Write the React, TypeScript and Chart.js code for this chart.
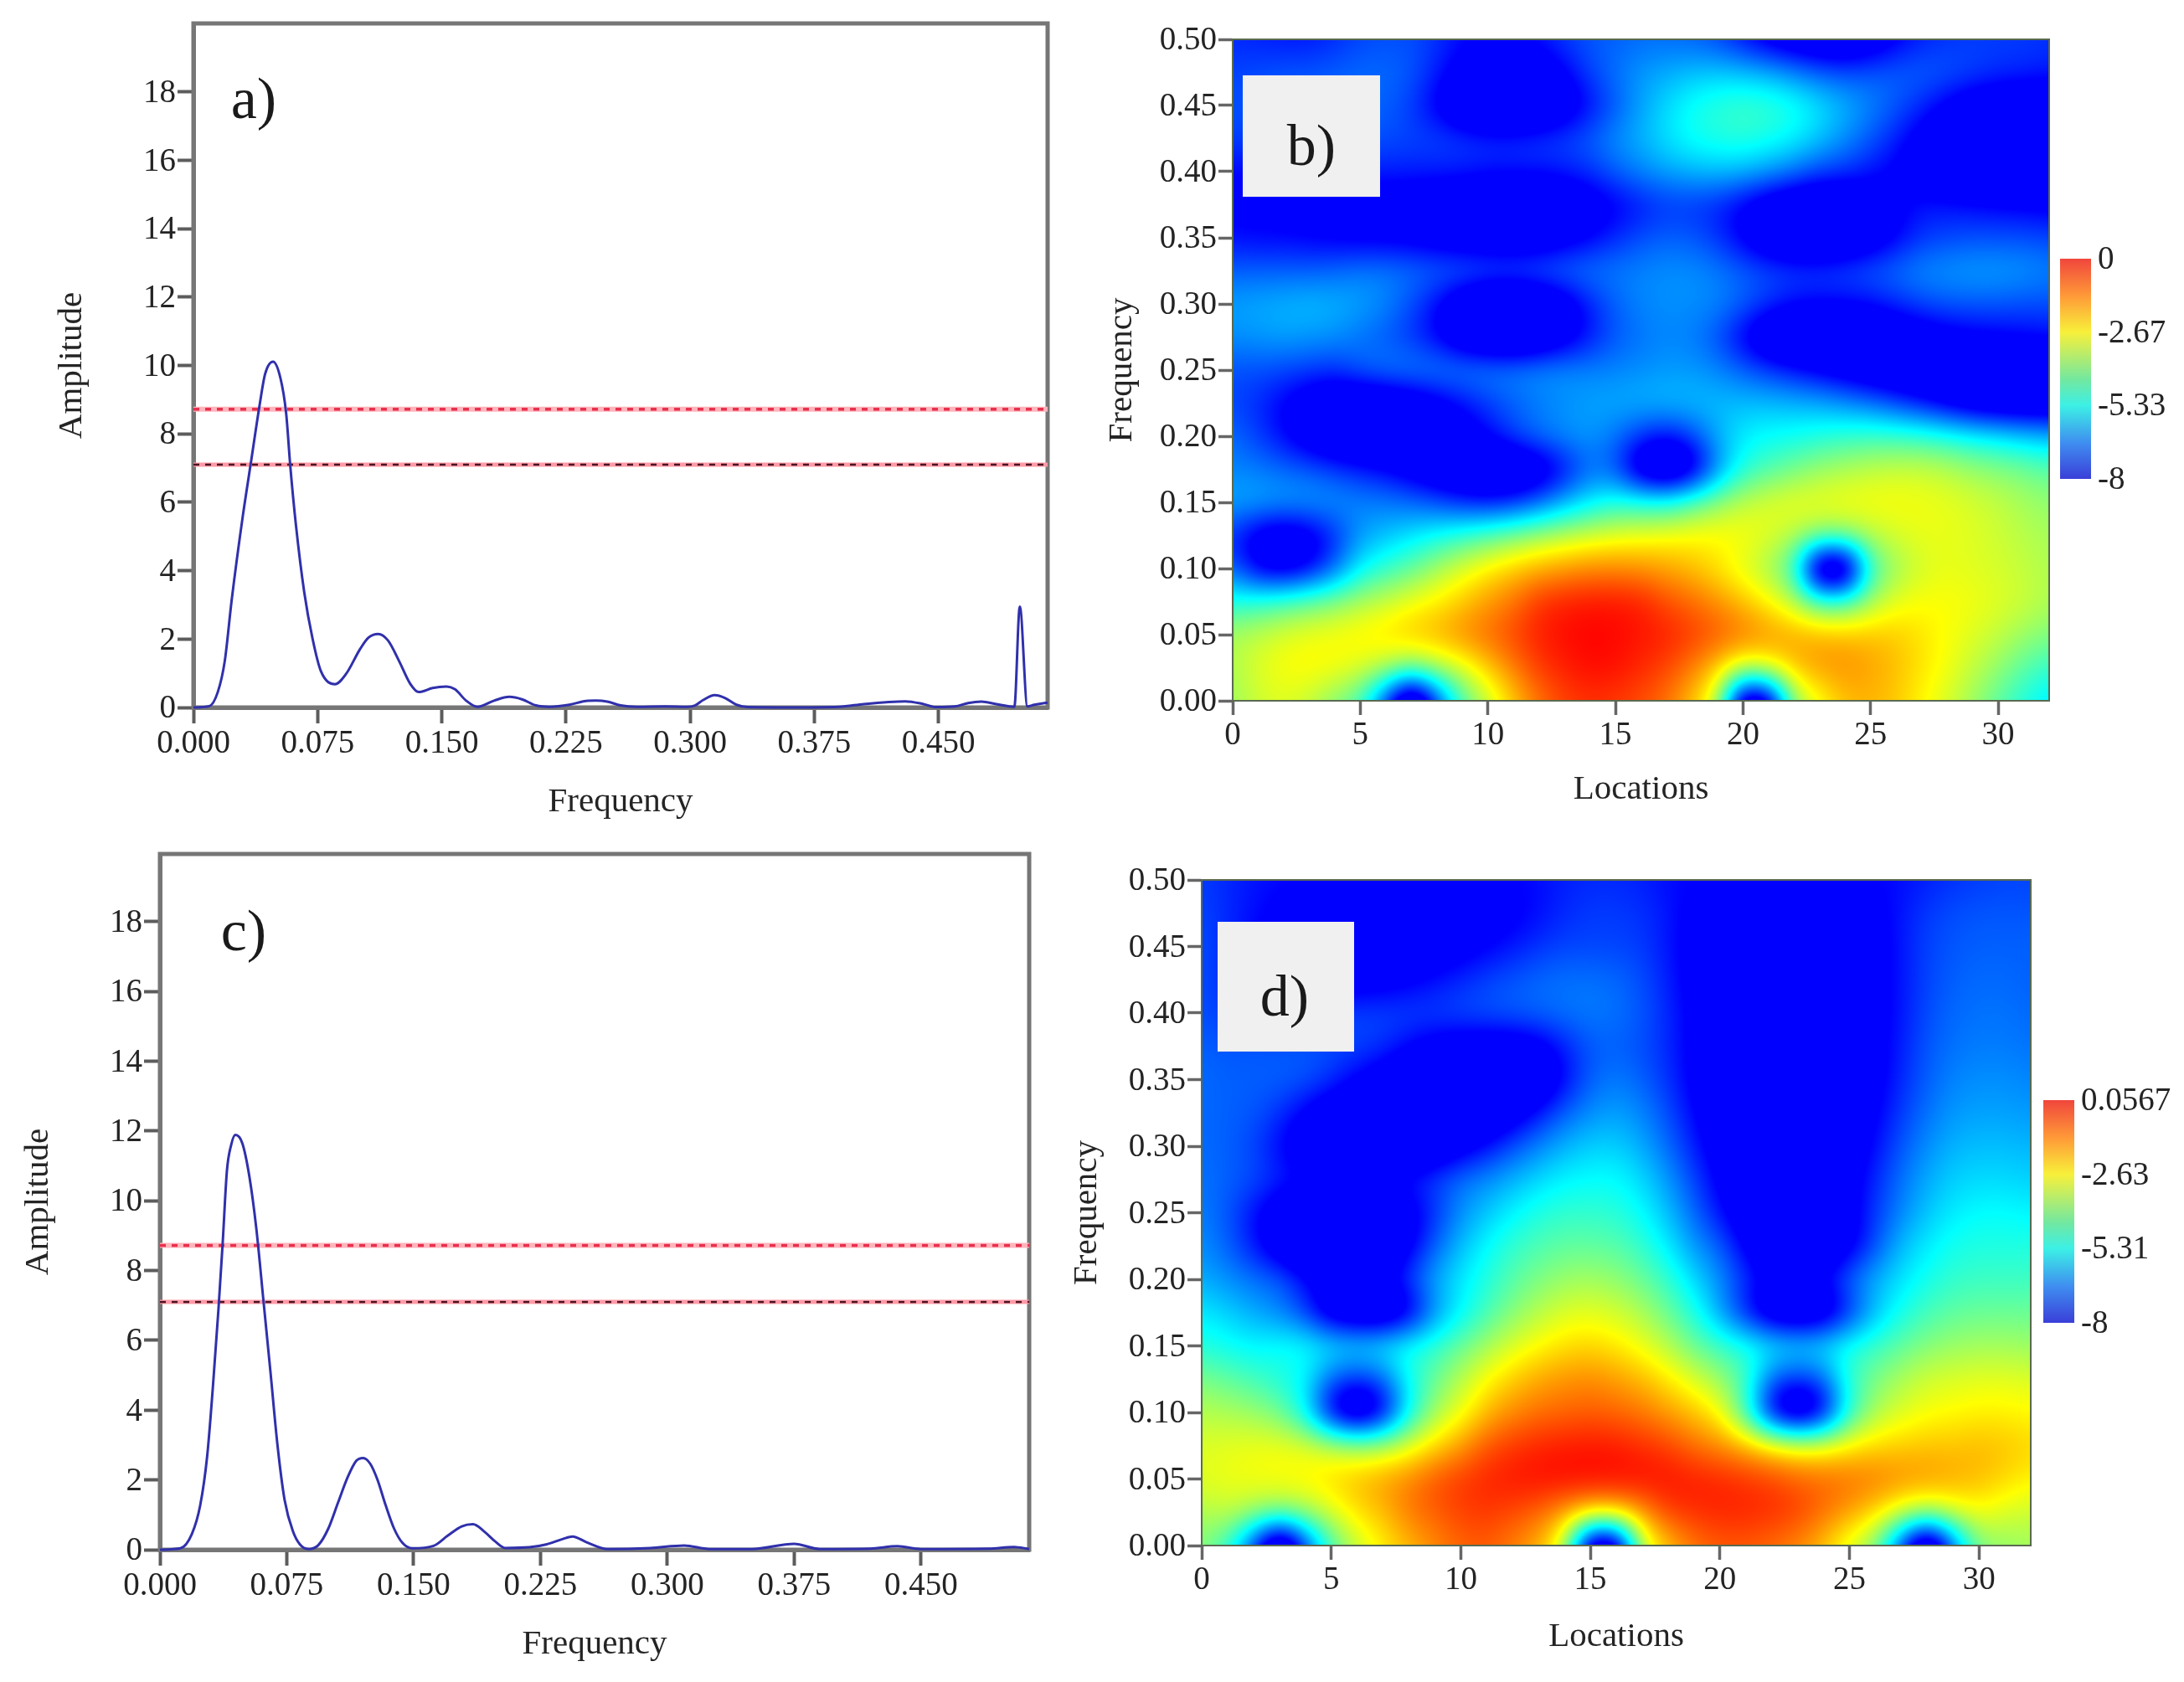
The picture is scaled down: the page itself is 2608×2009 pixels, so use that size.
import React, { useEffect, useRef } from "react";
import { Chart, registerables } from "chart.js";

Chart.register(...registerables);

const FONT = '"Liberation Serif", "Times New Roman", serif';
const TEXT = "#242424";

// Spectrum a)
const aFreq = [0, 0.0096, 0.0147, 0.0189, 0.0231, 0.0298, 0.0349, 0.04, 0.0433, 0.0481, 0.0526, 0.056, 0.0585, 0.0619, 0.0669, 0.072, 0.077, 0.0855, 0.0922, 0.1007, 0.1057, 0.1116, 0.1175, 0.1243, 0.131, 0.1361, 0.1445, 0.1529, 0.158, 0.1647, 0.1715, 0.1816, 0.1908, 0.1984, 0.2069, 0.2153, 0.2271, 0.2372, 0.243, 0.25, 0.258, 0.268, 0.285, 0.298, 0.303, 0.308, 0.3149, 0.321, 0.328, 0.335, 0.36, 0.39, 0.405, 0.42, 0.43, 0.441, 0.4487, 0.46, 0.468, 0.476, 0.485, 0.4959, 0.4992, 0.5038, 0.508, 0.516];
const aAmp = [0, 0.04, 0.45, 1.35, 3.14, 5.59, 7.22, 8.85, 9.75, 10.11, 9.62, 8.6, 7.06, 5.34, 3.38, 2.0, 1.06, 0.68, 0.98, 1.71, 2.04, 2.15, 1.96, 1.35, 0.69, 0.45, 0.57, 0.61, 0.53, 0.2, 0.02, 0.2, 0.31, 0.24, 0.06, 0.02, 0.08, 0.19, 0.2, 0.17, 0.06, 0.02, 0.03, 0.02, 0.06, 0.22, 0.36, 0.28, 0.08, 0.01, 0, 0.02, 0.1, 0.16, 0.18, 0.1, 0.01, 0.03, 0.13, 0.17, 0.1, 0.02, 2.95, 0.03, 0.08, 0.14];

// Spectrum c)
const cFreq = [0, 0.0121, 0.0188, 0.0238, 0.0279, 0.0313, 0.0346, 0.0371, 0.0396, 0.0421, 0.0446, 0.0487, 0.0529, 0.057, 0.0612, 0.0654, 0.0695, 0.0737, 0.0787, 0.0828, 0.0878, 0.0936, 0.0995, 0.1053, 0.1111, 0.1161, 0.1202, 0.1244, 0.1286, 0.1335, 0.1385, 0.1435, 0.1493, 0.1618, 0.1701, 0.1785, 0.1851, 0.1918, 0.1984, 0.2042, 0.2184, 0.2283, 0.2383, 0.244, 0.252, 0.265, 0.29, 0.31, 0.325, 0.35, 0.375, 0.39, 0.42, 0.436, 0.45, 0.49, 0.505, 0.514];
const cAmp = [0, 0.04, 0.44, 1.27, 2.67, 4.66, 6.89, 8.79, 10.86, 11.6, 11.89, 11.65, 10.69, 9.2, 7.14, 5.07, 3.0, 1.43, 0.52, 0.15, 0.02, 0.13, 0.6, 1.35, 2.09, 2.55, 2.63, 2.46, 2.01, 1.27, 0.6, 0.19, 0.04, 0.11, 0.4, 0.67, 0.73, 0.52, 0.23, 0.05, 0.07, 0.15, 0.31, 0.38, 0.22, 0.02, 0.05, 0.12, 0.02, 0.02, 0.17, 0.02, 0.03, 0.1, 0.02, 0.03, 0.08, 0.02];

const confidenceUpper = 8.72;
const confidenceLower = 7.1;
const amplitudeTicks = [0, 2, 4, 6, 8, 10, 12, 14, 16, 18];
const frequencyTicks = [0, 0.075, 0.15, 0.225, 0.3, 0.375, 0.45];
const locationTicks = [0, 5, 10, 15, 20, 25, 30];
const wavenumberTicks = [0, 0.05, 0.1, 0.15, 0.2, 0.25, 0.3, 0.35, 0.4, 0.45, 0.5];

const locations = [0, 1, 2, 3, 4, 5, 6, 7, 8, 9, 10, 11, 12, 13, 14, 15, 16, 17, 18, 19, 20, 21, 22, 23, 24, 25, 26, 27, 28, 29, 30, 31, 32];
const frequencies = [0.5, 0.475, 0.45, 0.425, 0.4, 0.375, 0.35, 0.325, 0.3, 0.275, 0.25, 0.225, 0.2, 0.175, 0.15, 0.125, 0.1, 0.075, 0.05, 0.025, 0];

// Wavelet map b), one row per frequency, one value per location
const powerB = [
  [-7.6,-7.7,-7.8,-7.8,-7.6,-7.3,-7.2,-7.2,-7.5,-7.9,-8,-8,-7.8,-7.4,-7.1,-7,-6.9,-6.9,-7,-7.3,-7.9,-8.5,-8.9,-9.2,-9.2,-8.8,-8.2,-7.7,-7.5,-7.4,-7.4,-7.4,-7.5],
  [-7.3,-7.2,-7.1,-7.1,-7,-6.9,-6.9,-7.1,-7.7,-8.4,-8.9,-9,-8.7,-8.1,-7.3,-6.8,-6.4,-6.2,-6,-5.9,-6,-6.2,-6.6,-7,-7.2,-7.1,-7,-7,-7.1,-7.3,-7.5,-7.6,-7.7],
  [-7.2,-7.1,-7,-6.9,-6.9,-6.9,-7,-7.4,-8.2,-9.2,-9.8,-9.9,-9.5,-8.8,-7.9,-7.1,-6.3,-5.7,-5.2,-4.9,-4.7,-4.8,-5.1,-5.6,-6.1,-6.6,-7.1,-7.6,-8.2,-8.7,-8.9,-9,-9],
  [-7.3,-7.3,-7.2,-7.1,-7.1,-7.1,-7.2,-7.3,-7.3,-7.4,-7.5,-7.5,-7.4,-7.3,-7,-6.5,-6.1,-5.6,-5.2,-5,-4.9,-5.1,-5.4,-5.9,-6.5,-7.1,-7.7,-8.4,-9,-9.4,-9.6,-9.6,-9.5],
  [-8,-8,-8,-7.9,-7.7,-7.7,-7.7,-7.7,-7.7,-7.7,-7.8,-7.8,-7.8,-7.7,-7.5,-7,-6.6,-6.3,-6.1,-6,-6.1,-6.4,-6.8,-7.3,-7.5,-7.8,-8.2,-8.7,-9.1,-9.4,-9.5,-9.4,-9.3],
  [-8.2,-8.2,-8.3,-8.4,-8.4,-8.5,-8.6,-8.7,-8.9,-9.1,-9.3,-9.4,-9.4,-9.1,-8.6,-8.2,-7.8,-7.5,-7.5,-7.7,-8.2,-8.8,-9.2,-9.4,-9.2,-8.8,-8.2,-7.8,-7.8,-7.9,-8,-8.1,-8.2],
  [-7.9,-8,-8,-8.1,-8.2,-8.3,-8.3,-8.4,-8.6,-8.8,-8.9,-9,-8.9,-8.5,-8.1,-7.6,-7.2,-7,-7.1,-7.5,-8.2,-9,-9.5,-9.6,-9.3,-8.8,-8.1,-7.5,-7.3,-7.2,-7.2,-7.2,-7.3],
  [-7,-7,-7,-7,-6.9,-6.7,-6.7,-6.8,-6.9,-6.9,-7,-7,-6.9,-6.8,-6.7,-6.7,-6.6,-6.5,-6.5,-6.7,-7,-7.2,-7.3,-7.3,-7.2,-7,-6.8,-6.5,-6.4,-6.3,-6.3,-6.4,-6.6],
  [-6.3,-6.2,-6.1,-6,-6.1,-6.3,-6.6,-7.2,-8,-9,-9.6,-9.8,-9.4,-8.7,-7.7,-7,-6.6,-6.5,-6.5,-6.6,-7,-7.5,-7.9,-8,-8,-7.9,-7.6,-7.3,-7.1,-7.1,-7.1,-7.2,-7.2],
  [-6.5,-6.4,-6.3,-6.4,-6.5,-6.8,-7.1,-7.5,-8.1,-9,-9.5,-9.7,-9.3,-8.6,-7.8,-7.1,-6.8,-6.6,-6.7,-7.2,-8.2,-9.2,-9.6,-9.7,-9.6,-9.4,-9,-8.7,-8.4,-8.2,-8.1,-8,-7.9],
  [-7.2,-7.2,-7.3,-7.4,-7.5,-7,-6.7,-6.6,-6.6,-6.6,-6.6,-6.6,-6.5,-6.5,-6.6,-6.6,-6.5,-6.4,-6.4,-6.6,-7,-7.4,-7.8,-8.2,-8.6,-9,-9.2,-9.4,-9.5,-9.5,-9.5,-9.4,-9.3],
  [-7.3,-7.6,-8.1,-8.7,-9.1,-9.3,-9.2,-8.9,-8.4,-7.9,-7.4,-7,-6.7,-6.5,-6.3,-6.2,-6.1,-6,-6,-6,-6,-6,-6.1,-6.2,-6.5,-6.8,-7.3,-7.8,-8.4,-8.9,-9.2,-9.3,-9.3],
  [-6.9,-7.4,-8,-8.7,-9.2,-9.5,-9.6,-9.4,-9.1,-8.6,-8,-7.3,-6.8,-6.5,-6.4,-6.8,-7.5,-7.9,-7.3,-6.2,-5.5,-5.3,-5.2,-5,-4.8,-4.7,-4.7,-4.8,-5,-5.3,-5.5,-5.8,-6],
  [-6.6,-6.7,-6.9,-7.1,-7.4,-7.7,-8,-8.5,-9,-9.4,-9.6,-9.5,-9,-8,-6.9,-7.2,-9.2,-10,-9,-6.6,-5,-4.5,-4.1,-3.7,-3.5,-3.3,-3.2,-3.2,-3.4,-3.7,-3.9,-4.1,-4.4],
  [-6.2,-6.2,-6.3,-6.3,-6.4,-6.6,-6.7,-6.9,-7.2,-7.6,-7.8,-7.6,-7,-6.2,-5.5,-5,-5,-5,-4.4,-3.8,-3.3,-3,-2.8,-2.8,-2.7,-2.7,-2.7,-2.8,-2.9,-3.1,-3.3,-3.6,-3.8],
  [-7.6,-8.6,-9,-8.6,-7.6,-6.4,-6,-5.6,-5.2,-4.8,-4.4,-4,-3.6,-3.3,-3.1,-2.9,-2.8,-2.7,-2.6,-2.6,-2.7,-3,-3.4,-3.8,-3.8,-3.4,-3.1,-2.9,-2.9,-3,-3.2,-3.4,-3.6],
  [-7,-8.4,-8.8,-8.2,-7,-5.4,-4.8,-4.3,-3.6,-3,-2.5,-2.1,-1.8,-1.6,-1.4,-1.4,-1.5,-1.7,-2,-2.4,-3,-3.6,-4.8,-10.5,-10.5,-4.8,-3.7,-3.1,-2.9,-3,-3.1,-3.3,-3.5],
  [-5,-4.8,-4.5,-4.2,-3.9,-3.5,-3.2,-2.8,-2.5,-2.1,-1.6,-1.2,-0.5,-0.3,-0.2,-0.2,-0.3,-0.8,-1.1,-1.5,-2,-2.6,-3.4,-4.6,-4.6,-3.6,-2.9,-2.7,-2.7,-2.8,-3,-3.2,-3.5],
  [-3.5,-3.3,-3,-2.8,-2.7,-2.5,-2.3,-2,-1.8,-1.4,-1.1,-0.7,-0.3,-0.1,0,-0.05,-0.2,-0.3,-0.6,-0.9,-1.2,-1.5,-1.7,-1.8,-1.9,-2,-2.1,-2.4,-2.7,-3,-3.3,-3.7,-4],
  [-3.5,-3,-2.7,-2.6,-2.7,-3,-3.4,-4,-3.5,-3,-2.1,-1.3,-0.6,-0.3,-0.1,-0.15,-0.4,-0.7,-1.3,-2.1,-3.1,-2.8,-2,-1.6,-1.5,-1.7,-2,-2.4,-2.8,-3.3,-3.8,-4.4,-4.8],
  [-3.7,-3.2,-3,-3.3,-4,-4.6,-7.5,-11,-7.5,-4.6,-3.3,-2.1,-1.2,-0.7,-0.5,-0.6,-0.8,-1.2,-2,-3.3,-10,-9.5,-3.8,-2.8,-2,-1.9,-2.1,-2.6,-3.1,-3.7,-4.4,-5,-5.6],
];

// Wavelet map d)
const powerD = [
  [-7.4,-7.6,-7.8,-7.9,-8,-8,-8,-8,-8,-8,-8,-8,-8,-7.9,-7.7,-7.6,-7.6,-7.7,-7.9,-8,-8.1,-8.1,-8.1,-8.1,-8.1,-8.1,-8,-7.9,-7.7,-7.5,-7.4,-7.3,-7.3],
  [-7.3,-7.6,-7.9,-8.2,-8.4,-8.5,-8.6,-8.6,-8.6,-8.6,-8.5,-8.4,-8.2,-7.9,-7.6,-7.4,-7.4,-7.5,-7.8,-8.2,-8.4,-8.5,-8.5,-8.5,-8.5,-8.4,-8.2,-7.8,-7.4,-7.2,-7.1,-7.1,-7.1],
  [-7.2,-7.6,-8,-8.3,-8.6,-8.7,-8.8,-8.8,-8.7,-8.6,-8.4,-8.1,-7.8,-7.5,-7.3,-7.3,-7.3,-7.4,-7.8,-8.3,-8.6,-8.8,-8.9,-8.9,-8.8,-8.6,-8.3,-7.8,-7.3,-7.1,-7,-7,-7],
  [-7.2,-7.6,-8,-8.2,-8.4,-8.5,-8.5,-8.4,-8.2,-7.9,-7.6,-7.3,-7.1,-6.9,-6.8,-6.8,-6.9,-7.2,-7.7,-8.3,-8.7,-8.9,-9,-9,-8.9,-8.7,-8.3,-7.8,-7.3,-7,-6.9,-6.9,-7],
  [-7.2,-7.4,-7.6,-7.6,-7.5,-7.4,-7.3,-7.3,-7.3,-7.3,-7.2,-7.1,-7,-6.9,-6.8,-6.7,-6.8,-7.1,-7.6,-8.2,-8.7,-9,-9.1,-9.1,-9,-8.7,-8.3,-7.8,-7.2,-6.9,-6.8,-6.8,-6.9],
  [-7,-7.1,-7.1,-7.1,-7.1,-7.2,-7.3,-7.5,-8,-8.4,-8.6,-8.7,-8.7,-8.4,-7.7,-7.1,-7,-7.2,-7.6,-8.2,-8.7,-9,-9.2,-9.2,-9,-8.8,-8.3,-7.7,-7.1,-6.8,-6.7,-6.7,-6.8],
  [-6.9,-7,-7,-7,-7.1,-7.5,-8.1,-8.6,-9.1,-9.4,-9.6,-9.7,-9.6,-9.2,-8,-7,-6.7,-7,-7.5,-8.2,-8.8,-9.1,-9.3,-9.3,-9.1,-8.8,-8.3,-7.6,-7,-6.6,-6.5,-6.5,-6.6],
  [-6.9,-7,-7.1,-7.5,-8.2,-8.8,-9.2,-9.5,-9.7,-9.7,-9.5,-9.2,-8.6,-7.8,-7,-6.5,-6.3,-6.6,-7.2,-8,-8.7,-9.1,-9.3,-9.3,-9.1,-8.8,-8.1,-7.4,-6.8,-6.4,-6.3,-6.3,-6.4],
  [-6.9,-7,-7.3,-8,-8.7,-9.2,-9.5,-9.6,-9.5,-9.1,-8.5,-7.9,-7.2,-6.6,-6.1,-5.8,-5.8,-6.2,-6.9,-7.7,-8.5,-9,-9.2,-9.2,-9,-8.6,-7.9,-7.1,-6.5,-6.1,-6,-6,-6.1],
  [-6.8,-7,-7.2,-7.6,-7.9,-8,-8,-7.9,-7.7,-7.3,-6.8,-6.5,-6.1,-5.7,-5.4,-5.3,-5.3,-5.7,-6.4,-7.3,-8.2,-8.8,-9.1,-9.2,-9,-8.4,-7.6,-6.8,-6.2,-5.8,-5.7,-5.7,-5.8],
  [-6.7,-7.1,-7.9,-8.7,-9.2,-9.4,-9.4,-9.1,-8.5,-7.5,-6.5,-5.9,-5.4,-5,-4.8,-4.8,-4.9,-5.3,-6,-6.9,-7.9,-8.7,-9.1,-9.2,-9,-8.4,-7.4,-6.6,-5.9,-5.5,-5.3,-5.3,-5.4],
  [-6.5,-7,-7.8,-8.8,-9.5,-9.7,-9.7,-9.4,-8.3,-7,-6,-5.3,-4.8,-4.5,-4.3,-4.3,-4.4,-4.8,-5.5,-6.4,-7,-8.2,-9.1,-9.4,-9.2,-8.4,-7.2,-6,-5.5,-5.1,-5,-5,-5],
  [-6.2,-6.5,-6.8,-7,-7.9,-8.4,-8.4,-8.2,-7.3,-6.2,-5.5,-5,-4.4,-4,-3.7,-3.6,-3.8,-4.2,-4.8,-5.7,-6.5,-7.5,-8.2,-8.3,-7.9,-6.9,-6.1,-5.6,-5.1,-4.8,-4.7,-4.7,-4.7],
  [-5.5,-5.8,-6.2,-6.6,-7.4,-9,-9.5,-9.6,-8.6,-6.5,-5.4,-4.6,-3.9,-3.4,-3,-2.9,-3.1,-3.5,-4.2,-5,-6.3,-7.8,-9.2,-9.6,-9.2,-7.6,-6,-5.1,-4.6,-4.3,-4.2,-4.2,-4.2],
  [-5,-5.2,-5.4,-5.2,-5.2,-5.4,-5.5,-5.3,-5,-4.8,-4.2,-3.6,-3,-2.6,-2.3,-2.2,-2.4,-2.8,-3.4,-4.2,-4.7,-5,-5.3,-5.5,-5.4,-5,-4.7,-4.3,-3.9,-3.7,-3.6,-3.6,-3.7],
  [-4,-4.3,-4.6,-5,-5.4,-7,-7.5,-7,-5.2,-4.2,-3.4,-2.6,-2.1,-1.7,-1.5,-1.4,-1.6,-1.9,-2.4,-3,-3.7,-4.6,-7,-7.5,-7,-4.8,-4,-3.5,-3.1,-3,-2.9,-2.9,-3],
  [-3.4,-3.5,-3.7,-4.1,-5.4,-8.5,-10,-8.5,-5.4,-3.6,-2.8,-1.9,-1.4,-1.1,-1,-0.9,-1,-1.2,-1.6,-2,-2.6,-4.8,-8.5,-10,-8.5,-5,-3.5,-3,-2.7,-2.6,-2.5,-2.5,-2.6],
  [-3,-2.9,-2.8,-2.8,-2.9,-3.2,-3.5,-3.4,-2.9,-2.2,-1.6,-0.8,-0.5,-0.3,-0.2,-0.15,-0.2,-0.4,-0.6,-1.1,-1.4,-1.8,-2.3,-2.7,-2.7,-2.4,-2.2,-2.1,-2,-2,-1.9,-2,-2.2],
  [-2.9,-2.8,-2.7,-2.6,-2.5,-2.2,-1.9,-1.6,-1.3,-0.8,-0.5,-0.3,-0.15,-0.05,0,0,0,-0.05,-0.1,-0.2,-0.3,-0.45,-0.6,-0.9,-1,-1.1,-1.2,-1.4,-1.5,-1.7,-1.9,-2.2,-2.5],
  [-3.5,-3.2,-3.6,-3.9,-3.6,-3,-2.3,-1.9,-1.2,-0.9,-0.6,-0.5,-0.7,-1,-1.6,-2.1,-2.1,-1.5,-0.6,-0.4,-0.3,-0.3,-0.4,-0.6,-1.1,-1.6,-2.2,-3,-3.5,-3,-2.7,-3,-3.2],
  [-3.9,-4.8,-7.5,-11,-7.5,-4.6,-3.2,-2.5,-1.9,-1.4,-1,-0.9,-1.3,-1.8,-3.3,-10,-10,-3.3,-2,-1.2,-0.9,-0.9,-1.1,-1.4,-2,-3,-4,-7.5,-11,-7,-4,-3.8,-3.6],
];

const colorbarB = { top: 0, bottom: -8, ticks: [0, -2.67, -5.33, -8], labels: ["0", "-2.67", "-5.33", "-8"] };
const colorbarD = { top: 0.0567, bottom: -8, ticks: [0.0567, -2.63, -5.31, -8], labels: ["0.0567", "-2.63", "-5.31", "-8"] };

// Map colours: blue, cyan, yellow, red
const mapStops = [[0, 0, 255], [0, 255, 255], [255, 255, 0], [255, 0, 0]];
// The printed colour bar is a little duller than the map
const barStops: [number, string][] = [
  [0, "#3a3fd8"], [0.16, "#3f8cf0"], [0.333, "#3cf0e6"], [0.45, "#72e8a0"], [0.667, "#f8f03a"], [0.83, "#ff9a38"], [1, "#f0463c"],
];

function mapColor(t: number) {
  const c = Math.max(0, Math.min(0.99999, t)) * 3;
  const i = Math.floor(c);
  const f = c - i;
  const a = mapStops[i];
  const b = mapStops[i + 1];
  return [a[0] + (b[0] - a[0]) * f, a[1] + (b[1] - a[1]) * f, a[2] + (b[2] - a[2]) * f];
}

function bspline(p0: number, p1: number, p2: number, p3: number, t: number) {
  const u = 1 - t;
  return (u * u * u * p0 + (3 * t * t * t - 6 * t * t + 4) * p1 + (-3 * t * t * t + 3 * t * t + 3 * t + 1) * p2 + t * t * t * p3) / 6;
}

function samplePower(rows: number[][], xs: number[], ys: number[], x: number, y: number) {
  const fx = ((x - xs[0]) / (xs[xs.length - 1] - xs[0])) * (xs.length - 1);
  const fy = ((y - ys[0]) / (ys[ys.length - 1] - ys[0])) * (ys.length - 1);
  const ix = Math.max(0, Math.min(xs.length - 2, Math.floor(fx)));
  const iy = Math.max(0, Math.min(ys.length - 2, Math.floor(fy)));
  const tx = fx - ix;
  const ty = fy - iy;
  const col: number[] = [];
  for (let j = -1; j <= 2; j++) {
    const r = rows[Math.max(0, Math.min(ys.length - 1, iy + j))];
    col.push(bspline(r[Math.max(0, ix - 1)], r[ix], r[ix + 1], r[Math.min(xs.length - 1, ix + 2)], tx));
  }
  return bspline(col[0], col[1], col[2], col[3], ty);
}

const framePlugin = (color: string, width: number) => ({
  id: "frame",
  beforeDatasetsDraw(chart: any) {
    const { left, top, width: w, height: h } = chart.chartArea;
    const ctx = chart.ctx;
    ctx.save();
    ctx.strokeStyle = color;
    ctx.lineWidth = width;
    ctx.strokeRect(left, top, w, h);
    ctx.restore();
  },
});

const tickSetter = (vals: number[]) => (scale: any) => {
  scale.ticks = vals.map((value) => ({ value }));
};

type Box = { l: number; t: number; r: number; b: number; ml: number; mb: number; xMax: number; yMax: number };

function scales(
  box: Box,
  xTicks: number[],
  yTicks: number[],
  xTitle: string,
  yTitle: string,
  digitsX: number,
  digitsY: number,
  tickColor: string,
  tickWidth: number,
  tickLen: number,
  axisColor: string,
  axisWidth: number
) {
  const tickFont = { family: FONT, size: 39 };
  const titleFont = { family: FONT, size: 41 };
  const common = {
    type: "linear",
    min: 0,
    grid: { drawOnChartArea: false, drawTicks: true, tickLength: tickLen, tickWidth, tickColor },
    border: { display: true, color: axisColor, width: axisWidth },
  };
  return {
    x: {
      ...common,
      max: box.xMax,
      afterBuildTicks: tickSetter(xTicks),
      afterFit: (s: any) => { s.height = box.mb; },
      ticks: {
        color: TEXT, font: tickFont, padding: 1, maxRotation: 0, autoSkip: false,
        callback: (v: any) => Number(v).toFixed(digitsX),
      },
      title: { display: true, text: xTitle, color: TEXT, font: titleFont, padding: 0 },
    },
    y: {
      ...common,
      max: box.yMax,
      afterBuildTicks: tickSetter(yTicks),
      afterFit: (s: any) => { s.width = box.ml; },
      ticks: {
        color: TEXT, font: tickFont, padding: 2, autoSkip: false, labelOffset: 2,
        callback: (v: any) => Number(v).toFixed(digitsY),
      },
      title: { display: true, text: yTitle, color: TEXT, font: titleFont, padding: 0 },
    },
  };
}

function Panel({ box, build }: { box: Box; build: (c: HTMLCanvasElement) => Chart }) {
  const ref = useRef<HTMLCanvasElement>(null);
  useEffect(() => {
    const chart = build(ref.current as HTMLCanvasElement);
    return () => chart.destroy();
  }, []);
  const pad = 30;
  const left = box.l - box.ml;
  const top = box.t - pad;
  const width = box.r - box.l + box.ml + pad;
  const height = box.b - box.t + pad + box.mb;
  return (
    <canvas ref={ref} width={width} height={height}
      style={{ position: "absolute", left, top, width, height, display: "block" }} />
  );
}

const BLUE = "#3030ac";

function spectrum(box: Box, freq: number[], amp: number[]) {
  return (canvas: HTMLCanvasElement) => {
    const level = (y: number) => [{ x: 0, y }, { x: box.xMax, y }];
    return new Chart(canvas, {
      type: "scatter",
      data: {
        datasets: [
          { data: freq.map((x, i) => ({ x, y: amp[i] })), showLine: true, borderColor: BLUE, borderWidth: 3, pointRadius: 0, cubicInterpolationMode: "monotone", clip: 6 },
          { data: level(confidenceUpper), showLine: true, borderColor: "#e8304c", borderWidth: 3.5, borderDash: [7, 7], pointRadius: 0 },
          { data: level(confidenceUpper), showLine: true, borderColor: "#ffb4bc", borderWidth: 6, pointRadius: 0 },
          { data: level(confidenceLower), showLine: true, borderColor: "#4a1424", borderWidth: 2.5, borderDash: [7, 7], pointRadius: 0 },
          { data: level(confidenceLower), showLine: true, borderColor: "#ff9aa6", borderWidth: 5, pointRadius: 0 },
        ],
      } as any,
      plugins: [framePlugin("#767676", 5)],
      options: {
        animation: false, responsive: false, maintainAspectRatio: false,
        layout: { padding: { top: 30, right: 30, left: 0, bottom: 0 } },
        plugins: { legend: { display: false }, tooltip: { enabled: false } },
        scales: scales(box, frequencyTicks, amplitudeTicks, "Frequency", "Amplitude", 3, 0, "#5c5c5c", 4, 19, "#767676", 5),
      } as any,
    });
  };
}

function heatmap(box: Box, rows: number[][], vmin: number, vmax: number) {
  return (canvas: HTMLCanvasElement) => {
    const painter = {
      id: "power",
      beforeDatasetsDraw(chart: any) {
        const { left, top, width, height } = chart.chartArea;
        const xs: number[] = [];
        const ys: number[] = [];
        for (let i = 0; i < Math.round(width); i++) xs.push(chart.scales.x.getValueForPixel(left + i + 0.5));
        for (let j = 0; j < Math.round(height); j++) ys.push(chart.scales.y.getValueForPixel(top + j + 0.5));
        const off = document.createElement("canvas");
        off.width = xs.length;
        off.height = ys.length;
        const octx = off.getContext("2d") as CanvasRenderingContext2D;
        const img = octx.createImageData(xs.length, ys.length);
        let k = 0;
        for (const y of ys) {
          for (const x of xs) {
            const v = samplePower(rows, locations, frequencies, x, y);
            const c = mapColor((v - vmin) / (vmax - vmin));
            img.data[k++] = c[0];
            img.data[k++] = c[1];
            img.data[k++] = c[2];
            img.data[k++] = 255;
          }
        }
        octx.putImageData(img, 0, 0);
        chart.ctx.drawImage(off, left, top);
        const ctx = chart.ctx;
        ctx.save();
        ctx.strokeStyle = "#5a6a50";
        ctx.lineWidth = 2;
        ctx.strokeRect(left, top, width, height);
        ctx.restore();
      },
    };
    const points: any[] = [];
    rows.forEach((row, j) => row.forEach((v, i) => points.push({ x: locations[i], y: frequencies[j], v })));
    return new Chart(canvas, {
      type: "scatter",
      data: { datasets: [{ data: points, pointRadius: 0 }] },
      plugins: [painter],
      options: {
        animation: false, responsive: false, maintainAspectRatio: false,
        layout: { padding: { top: 30, right: 30, left: 0, bottom: 0 } },
        plugins: { legend: { display: false }, tooltip: { enabled: false } },
        scales: scales(box, locationTicks, wavenumberTicks, "Locations", "Frequency", 0, 2, "#666666", 3.5, 17, "#5a6a50", 2),
      } as any,
    });
  };
}

function ColorBar({ l, t, r, b, bar }: { l: number; t: number; r: number; b: number; bar: typeof colorbarB }) {
  const ref = useRef<HTMLCanvasElement>(null);
  useEffect(() => {
    const chart = new Chart(ref.current as HTMLCanvasElement, {
      type: "bar",
      data: {
        labels: ["power"],
        datasets: [{
          data: [[bar.bottom, bar.top]],
          barPercentage: 1,
          categoryPercentage: 1,
          backgroundColor: (ctx: any) => {
            const area = ctx.chart.chartArea;
            if (!area) return "#888";
            const g = ctx.chart.ctx.createLinearGradient(0, area.bottom, 0, area.top);
            barStops.forEach(([p, c]) => g.addColorStop(p, c));
            return g;
          },
        }],
      } as any,
      options: {
        animation: false, responsive: false, maintainAspectRatio: false,
        layout: { padding: { top: 40, bottom: 40, left: 0, right: 0 } },
        plugins: { legend: { display: false }, tooltip: { enabled: false } },
        scales: {
          x: { display: false },
          y: {
            position: "right",
            min: bar.bottom,
            max: bar.top,
            afterBuildTicks: tickSetter(bar.ticks),
            grid: { display: false, drawTicks: false },
            border: { display: false },
            afterFit: (s: any) => { s.width = 130; },
            ticks: {
              color: TEXT, font: { family: FONT, size: 39 }, padding: 8, autoSkip: false, labelOffset: 2,
              callback: (v: any) => bar.labels[bar.ticks.indexOf(Number(v))],
            },
          },
        },
      } as any,
    });
    return () => chart.destroy();
  }, []);
  const width = r - l + 130;
  const height = b - t + 80;
  return (
    <canvas ref={ref} width={width} height={height}
      style={{ position: "absolute", left: l, top: t - 40, width, height }} />
  );
}

const tag = (text: string, cx: number, cy: number) => (
  <div style={{
    position: "absolute", left: cx - 60, top: cy - 45, width: 120, height: 90, lineHeight: "90px",
    textAlign: "center", fontFamily: FONT, fontSize: 70, color: "#1a1a1a",
  }}>{text}</div>
);

const patch = (l: number, t: number, r: number, b: number) => (
  <div style={{ position: "absolute", left: l, top: t, width: r - l, height: b - t, background: "#f0f0f0" }} />
);

const boxA: Box = { l: 231, t: 28, r: 1251, b: 845, ml: 169, mb: 138, xMax: 0.516, yMax: 20 };
const boxC: Box = { l: 191, t: 1020, r: 1229, b: 1851, ml: 169, mb: 138, xMax: 0.514, yMax: 19.94 };
const boxB: Box = { l: 1472, t: 47, r: 2447, b: 837, ml: 156, mb: 131, xMax: 32, yMax: 0.5 };
const boxD: Box = { l: 1435, t: 1051, r: 2425, b: 1846, ml: 161, mb: 134, xMax: 32, yMax: 0.5 };

export default function App() {
  return (
    <div style={{ position: "absolute", left: 0, top: 0, width: 2608, height: 2009, background: "#fff", overflow: "hidden", filter: "blur(0.7px)" }}>
      <Panel box={boxA} build={spectrum(boxA, aFreq, aAmp)} />
      <Panel box={boxC} build={spectrum(boxC, cFreq, cAmp)} />
      <Panel box={boxB} build={heatmap(boxB, powerB, -8, 0)} />
      <Panel box={boxD} build={heatmap(boxD, powerD, -8, 0.0567)} />
      <ColorBar l={2460} t={309} r={2497} b={572} bar={colorbarB} />
      <ColorBar l={2440} t={1314} r={2477} b={1580} bar={colorbarD} />
      {patch(1484, 90, 1648, 235)}
      {patch(1454, 1101, 1617, 1256)}
      {tag("a)", 303, 118)}
      {tag("b)", 1566, 174)}
      {tag("c)", 291, 1112)}
      {tag("d)", 1534, 1190)}
    </div>
  );
}
